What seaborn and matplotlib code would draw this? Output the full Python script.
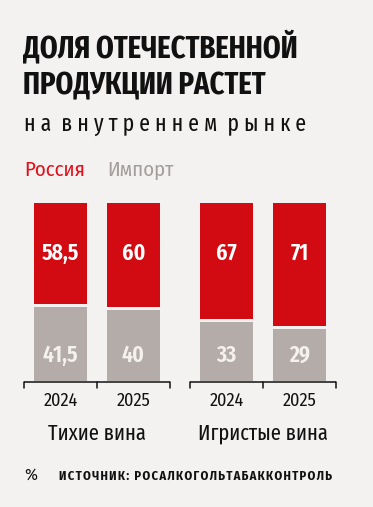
import numpy as np
import pandas as pd
import matplotlib
matplotlib.use("Agg")
import matplotlib.pyplot as plt
import seaborn as sns

# данные
groups = ["Тихие вина", "Игристые вина"]
years = ["2024", "2025"]
russia = [58.5, 60, 67, 71]
imports = [41.5, 40, 33, 29]

sns.set_theme(style="white")
COND = ["Fira Sans Condensed", "DejaVu Sans"]
XCOND = ["Fira Sans Extra Condensed", "Fira Sans Condensed", "DejaVu Sans"]
plt.rcParams["font.family"] = COND

BG = "#f4f2f0"
RED = "#d20a11"
GRAY = "#b3aca9"
INK = "#111111"
W, H = 373, 507

def fx(px):
    return px / W

def fy(px):
    return 1 - px / H

fig = plt.figure(figsize=(W / 100, H / 100), dpi=100, facecolor=BG)

# оси: 0% на y=381px, 100% на y=203px
ax = fig.add_axes([0, fy(381), 1, (381 - 203) / H])
ax.set_facecolor(BG)

step = 73.0  # расстояние между столбиками, px
group_step = 166 / step
pos = [g * group_step + i for g in range(len(groups)) for i in range(len(years))]
df = pd.DataFrame({
    "pos": pos,
    "total": [r + m for r, m in zip(russia, imports)],
    "russia": russia,
    "imports": imports,
})
df["gap"] = df["imports"] + 1.7

bw = 53 / step
sns.barplot(data=df, x="pos", y="total", native_scale=True, width=bw,
            color=RED, saturation=1, linewidth=0, ax=ax)
sns.barplot(data=df, x="pos", y="gap", native_scale=True, width=bw,
            color=BG, saturation=1, linewidth=0, ax=ax)
sns.barplot(data=df, x="pos", y="imports", native_scale=True, width=bw,
            color=GRAY, saturation=1, linewidth=0, ax=ax)

ax.set_xlim(-60.5 / step, (W - 60.5) / step)
ax.set_ylim(0, 100)
ax.set_axis_off()

def fmt(v):
    return f"{v:g}".replace(".", ",")

for p, r, m in zip(pos, russia, imports):
    ax.text(p, 71.9, fmt(r), ha="center", va="center", color="white",
            fontsize=17, fontweight="semibold", family=XCOND)
    ax.text(p, 14.6, fmt(m), ha="center", va="center", color="#f5f1ec",
            fontsize=17, fontweight="semibold", family=XCOND)

# скобки под группами
tick = 6 / 178 * 100
for g in range(len(groups)):
    x0 = g * group_step - 0.5
    x1 = g * group_step + len(years) - 0.5
    ax.plot([x0, x1], [-0.6, -0.6], color=INK, lw=1.1, clip_on=False,
            solid_capstyle="butt")
    for t in np.arange(x0, x1 + 0.01, 1.0):
        ax.plot([t, t], [-0.6, -0.6 - tick], color=INK, lw=1.1, clip_on=False)

for g, name in enumerate(groups):
    for i, y in enumerate(years):
        p = g * group_step + i
        fig.text(ax.transData.transform((p, 0))[0] / W, fy(406), y,
                 ha="center", va="baseline", fontsize=13, color=INK)
    c = g * group_step + (len(years) - 1) / 2
    fig.text(ax.transData.transform((c, 0))[0] / W, fy(440), name,
             ha="center", va="baseline", fontsize=16, color=INK, family=XCOND)

# заголовок
fig.text(fx(23), fy(57), "ДОЛЯ ОТЕЧЕСТВЕННОЙ", fontsize=22.3, fontweight="bold",
         family=XCOND, color=INK, va="baseline", ha="left")
fig.text(fx(23), fy(94), "ПРОДУКЦИИ РАСТЕТ", fontsize=22.3, fontweight="bold",
         family=XCOND, color=INK, va="baseline", ha="left")
subtitle = "на внутреннем рынке"
spaced = "  ".join(" ".join(w) for w in subtitle.split())
fig.text(fx(24), fy(131), spaced, fontsize=17, family=XCOND,
         color=INK, va="baseline", ha="left")

# легенда
fig.text(fx(24), fy(176), "Россия", fontsize=15, color="#e0101c", va="baseline")
fig.text(fx(107), fy(176), "Импорт", fontsize=15, color="#a39e9b", va="baseline")

# подвал
source = "ИСТОЧНИК: РОСАЛКОГОЛЬТАБАККОНТРОЛЬ"
fig.text(fx(24), fy(480), "%", fontsize=12.5, color=INK, va="baseline")
fig.text(fx(59), fy(480), "\u200a".join(source), fontsize=9,
         fontweight="bold", color=INK, va="baseline")

fig.savefig("out.png", dpi=100, facecolor=BG)
